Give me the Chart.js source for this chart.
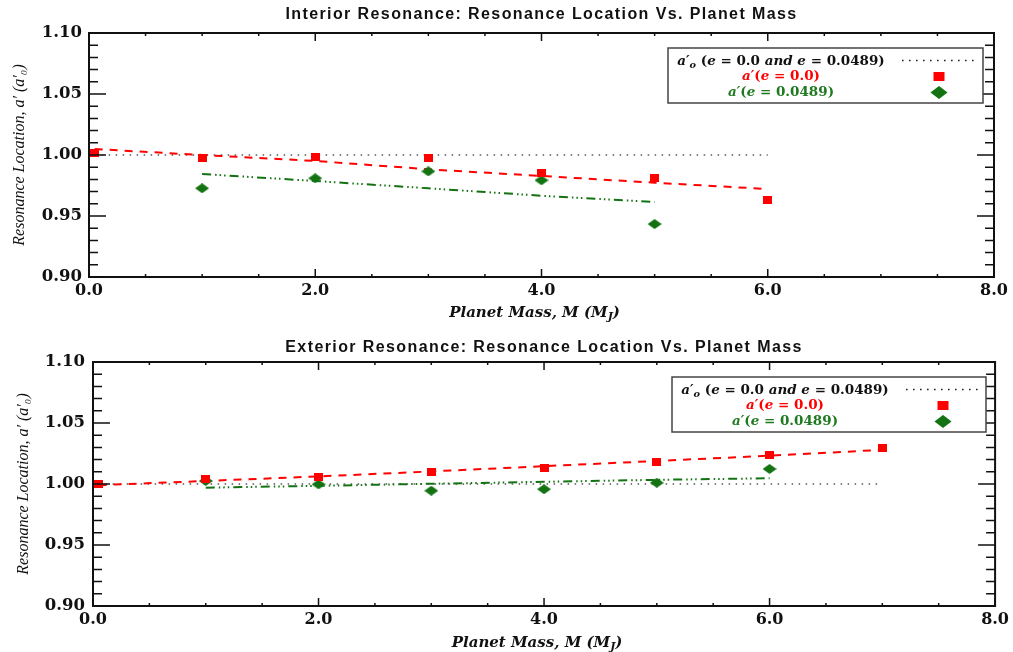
<!DOCTYPE html>
<html>
<head>
<meta charset="utf-8">
<script src="https://cdn.jsdelivr.net/npm/chart.js@4.4.0/dist/chart.umd.min.js"></script>
<style>
  html, body { margin: 0; padding: 0; background: #fff; }
  canvas { display: block; }
</style>
</head>
<body>
<canvas id="interior" width="1013" height="326"></canvas>
<canvas id="exterior" width="1013" height="326"></canvas>
<script>
// ---- data ----
const massTop = [0.05, 1, 2, 3, 4, 5, 6];
const redTop = [1.0014, 0.9978, 0.9986, 0.9973, 0.9855, 0.9814, 0.9634];
const redFitTop = [1.0049, 1.0000, 0.9951, 0.9883, 0.9828, 0.9773, 0.9721];
const greenMassTop = [1, 2, 3, 4, 5];
const greenTop = [0.9727, 0.9809, 0.9866, 0.9793, 0.9434];
const greenFitTop = [0.9844, 0.9787, 0.9727, 0.9666, 0.9615];
const refMassTop = [0.05, 6];
const refTop = [1.0, 1.0];

const massBot = [0.05, 1, 2, 3, 4, 5, 6, 7];
const redBot = [1.0000, 1.0039, 1.0055, 1.0098, 1.0134, 1.0183, 1.0235, 1.0298];
const redFitBot = [0.9990, 1.0025, 1.0062, 1.0103, 1.0146, 1.0189, 1.0232, 1.0280];
const greenMassBot = [1, 2, 3, 4, 5, 6];
const greenBot = [1.0025, 0.9997, 0.9945, 0.9957, 1.0010, 1.0123];
const greenFitBot = [0.9970, 0.9985, 1.0002, 1.0018, 1.0034, 1.0047];
const refMassBot = [0.05, 7];
const refBot = [1.0, 1.0];

const xTickLabels = ['0.0', '2.0', '4.0', '6.0', '8.0'];
const yTickLabels = ['0.90', '0.95', '1.00', '1.05', '1.10'];

const titleTop = 'Interior Resonance: Resonance Location Vs. Planet Mass';
const titleBot = 'Exterior Resonance: Resonance Location Vs. Planet Mass';
const yTitle = 'Resonance Location, a\u2032 (a\u2032\u2080)';
// rich text pieces: [text, flags] where i = italic, s = subscript
const xTitle = [['Planet Mass, M (M', 'i'], ['J', 'is'], [')', 'i']];
const legendLabels = [
  [['a\u2032', 'i'], ['o', 'is'], [' (', ''], ['e', 'i'], [' = 0.0 ', ''], ['and', 'i'], [' ', ''], ['e', 'i'], [' = 0.0489)', '']],
  [['a\u2032', 'i'], ['(', ''], ['e', 'i'], [' = 0.0)', '']],
  [['a\u2032', 'i'], ['(', ''], ['e', 'i'], [' = 0.0489)', '']]
];

const RED = '#ff0000';
const GREEN = '#137313';
const GREEN_TXT = '#1f7a1f';

function pts(xs, ys) {
  return xs.map((x, i) => ({ x: x, y: ys[i] }));
}

function marker(w, h, color, shape) {
  const c = document.createElement('canvas');
  c.width = w; c.height = h;
  const g = c.getContext('2d');
  g.fillStyle = color;
  if (shape === 'sq') {
    g.fillRect(0, 0, w, h);
  } else {
    g.beginPath();
    g.moveTo(w / 2, 0); g.lineTo(w, h / 2); g.lineTo(w / 2, h); g.lineTo(0, h / 2);
    g.closePath(); g.fill();
  }
  return c;
}
const sqMark = marker(9, 8, RED, 'sq');
const diaMark = marker(14, 10, GREEN, 'dia');

function richFont(flags, size) {
  const sz = flags.includes('s') ? size * 0.72 : size;
  return (flags.includes('i') ? 'italic ' : '') + 'bold ' + sz + 'px "DejaVu Serif"';
}

function drawRich(ctx, segs, cx, cy, size, color) {
  let total = 0;
  const widths = segs.map(s => {
    ctx.font = richFont(s[1], size);
    const w = ctx.measureText(s[0]).width;
    total += w;
    return w;
  });
  let x = cx - total / 2;
  ctx.fillStyle = color;
  ctx.textAlign = 'left';
  ctx.textBaseline = 'middle';
  segs.forEach((s, i) => {
    ctx.font = richFont(s[1], size);
    ctx.fillText(s[0], x, cy + (s[1].includes('s') ? size * 0.3 : 0));
    x += widths[i];
  });
}

// frame, inward ticks, title, x title and legend
const decoPlugin = {
  id: 'deco',
  afterDraw(chart, args, o) {
    const { ctx, chartArea } = chart;
    const { left, right, top, bottom } = chartArea;
    const xs = chart.scales.x, ys = chart.scales.y;
    ctx.save();
    ctx.strokeStyle = '#111';
    ctx.lineWidth = 2;
    ctx.strokeRect(left, top, right - left, bottom - top);
    ctx.lineWidth = 1.5;
    ctx.beginPath();
    for (let k = 0; k <= 16; k++) {
      const px = xs.getPixelForValue(k * 0.5);
      const len = k % 4 === 0 ? 8 : 3;
      ctx.moveTo(px, bottom); ctx.lineTo(px, bottom - len);
      ctx.moveTo(px, top); ctx.lineTo(px, top + len);
    }
    for (let k = 0; k <= 20; k++) {
      const py = ys.getPixelForValue(0.9 + k * 0.01);
      const len = k % 5 === 0 ? 17 : 9;
      ctx.moveTo(left, py); ctx.lineTo(left + len, py);
      ctx.moveTo(right, py); ctx.lineTo(right - len, py);
    }
    ctx.stroke();

    // title
    ctx.fillStyle = '#111';
    ctx.font = 'bold 16px "Liberation Sans"';
    ctx.letterSpacing = '1.4px';
    ctx.textAlign = 'center';
    ctx.textBaseline = 'middle';
    ctx.fillText(o.title, (left + right) / 2, o.titleY);
    ctx.letterSpacing = '0px';

    // x axis title
    drawRich(ctx, xTitle, (left + right) / 2 - 7, o.xTitleY, 15, '#111');

    // legend box
    const b = o.box;
    ctx.fillStyle = '#fff';
    ctx.fillRect(b[0], b[1], b[2] - b[0], b[3] - b[1]);
    ctx.strokeStyle = '#444';
    ctx.lineWidth = 1.5;
    ctx.strokeRect(b[0], b[1], b[2] - b[0], b[3] - b[1]);
    const cx = b[0] + 113;
    const rows = [b[1] + 13.5, b[1] + 28.5, b[1] + 44.5];
    drawRich(ctx, legendLabels[0], cx, rows[0], 13.5, '#111');
    drawRich(ctx, legendLabels[1], cx, rows[1], 13.5, RED);
    drawRich(ctx, legendLabels[2], cx, rows[2], 13.5, GREEN_TXT);
    ctx.strokeStyle = '#222';
    ctx.lineWidth = 1.6;
    ctx.setLineDash([1.6, 5.4]);
    ctx.beginPath();
    ctx.moveTo(b[0] + 234, rows[0] - 1); ctx.lineTo(b[0] + 306, rows[0] - 1);
    ctx.stroke();
    ctx.setLineDash([]);
    ctx.fillStyle = RED;
    ctx.fillRect(b[0] + 271 - 5.5, rows[1] - 4.5, 11, 9);
    ctx.fillStyle = GREEN;
    const mx = b[0] + 271, my = rows[2];
    ctx.beginPath();
    ctx.moveTo(mx, my - 6.5); ctx.lineTo(mx + 8.5, my); ctx.lineTo(mx, my + 6.5); ctx.lineTo(mx - 8.5, my);
    ctx.closePath(); ctx.fill();
    ctx.restore();
  }
};

function makeChart(id, g) {
  const datasets = [
    { data: pts(g.mass, g.red), showLine: false, pointStyle: sqMark, pointRadius: 5 },
    { data: pts(g.gMass, g.green), showLine: false, pointStyle: diaMark, pointRadius: 6 },
    { data: pts(g.mass, g.redFit), showLine: true, borderColor: RED, borderWidth: 2,
      borderDash: [8, 7], pointRadius: 0 },
    { data: pts(g.gMass, g.greenFit), showLine: true, borderColor: GREEN, borderWidth: 2,
      borderDash: [9, 4, 1.5, 3, 1.5, 3, 1.5, 4], pointRadius: 0 },
    { data: pts(g.refMass, g.ref), showLine: true, borderColor: '#555', borderWidth: 1.5,
      borderDash: [1.5, 5.5], pointRadius: 0 }
  ];
  return new Chart(document.getElementById(id), {
    type: 'scatter',
    data: { datasets: datasets },
    options: {
      responsive: false,
      animation: false,
      layout: { padding: { top: g.top, right: 1013 - g.right, left: 0, bottom: 0 } },
      plugins: {
        legend: { display: false },
        tooltip: { enabled: false },
        deco: { title: g.title, titleY: g.titleY, xTitleY: g.xTitleY, box: g.box }
      },
      scales: {
        x: {
          type: 'linear', min: 0, max: 8,
          grid: { display: false, drawTicks: false },
          border: { display: false },
          afterFit: s => { s.height = 326 - g.bottom; },
          afterBuildTicks: s => { s.ticks = xTickLabels.map(t => ({ value: parseFloat(t) })); },
          ticks: {
            padding: 4, maxRotation: 0, autoSkip: false, color: '#111',
            font: { family: '"DejaVu Serif"', size: 16, weight: 'bold' },
            callback: v => v.toFixed(1)
          }
        },
        y: {
          type: 'linear', min: 0.9, max: 1.1,
          grid: { display: false, drawTicks: false },
          border: { display: false },
          afterFit: s => { s.width = g.left; },
          afterBuildTicks: s => { s.ticks = yTickLabels.map(t => ({ value: parseFloat(t) })); },
          ticks: {
            padding: g.yPad, color: '#111',
            font: { family: '"DejaVu Serif"', size: 16.5, weight: 'bold' },
            callback: v => v.toFixed(2)
          },
          title: {
            display: true, text: yTitle, color: '#111',
            font: { family: '"Liberation Serif"', size: 16, style: 'italic' },
            padding: { top: g.yTitlePad, bottom: 0 }
          }
        }
      }
    },
    plugins: [decoPlugin]
  });
}

makeChart('interior', {
  mass: massTop, red: redTop, redFit: redFitTop,
  gMass: greenMassTop, green: greenTop, greenFit: greenFitTop,
  refMass: refMassTop, ref: refTop,
  left: 89, right: 994, top: 33, bottom: 277, yPad: 7, yTitlePad: 10,
  title: titleTop, titleY: 15, xTitleY: 313, box: [668, 48, 983, 103]
});

makeChart('exterior', {
  mass: massBot, red: redBot, redFit: redFitBot,
  gMass: greenMassBot, green: greenBot, greenFit: greenFitBot,
  refMass: refMassBot, ref: refBot,
  left: 93, right: 998, top: 36, bottom: 280, yPad: 8, yTitlePad: 14,
  title: titleBot, titleY: 22, xTitleY: 317, box: [672, 51, 986, 106]
});
</script>
</body>
</html>
